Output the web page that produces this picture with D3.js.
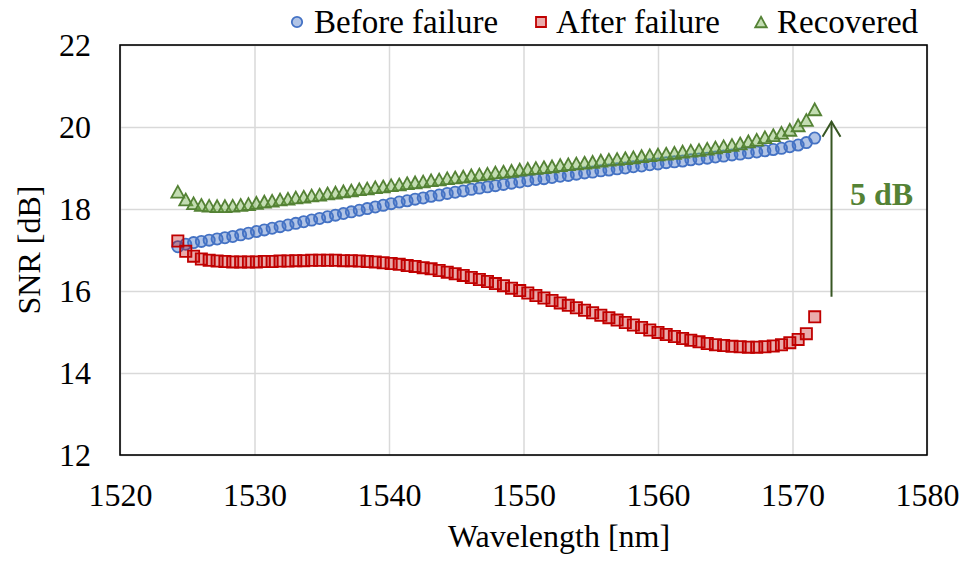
<!DOCTYPE html>
<html>
<head>
<meta charset="utf-8">
<script src="https://cdn.jsdelivr.net/npm/d3@7"></script>
<style>
  html, body { margin: 0; padding: 0; background: #ffffff; }
  svg { display: block; }
  text { font-family: "Liberation Serif", "Times New Roman", serif; }
</style>
</head>
<body>
<svg id="chart" width="966" height="562"></svg>
<script>
// ---- data ----
const wavelengths = [
  1524.30, 1524.89, 1525.47, 1526.05, 1526.63, 1527.22, 1527.80, 1528.38, 1528.97, 1529.55,
  1530.14, 1530.73, 1531.31, 1531.90, 1532.49, 1533.07, 1533.66, 1534.25, 1534.84, 1535.43,
  1536.02, 1536.61, 1537.20, 1537.79, 1538.38, 1538.98, 1539.57, 1540.16, 1540.76, 1541.35,
  1541.94, 1542.54, 1543.13, 1543.73, 1544.33, 1544.92, 1545.52, 1546.12, 1546.72, 1547.32,
  1547.91, 1548.51, 1549.11, 1549.72, 1550.32, 1550.92, 1551.52, 1552.12, 1552.73, 1553.33,
  1553.93, 1554.54, 1555.14, 1555.75, 1556.35, 1556.96, 1557.57, 1558.17, 1558.78, 1559.39,
  1560.00, 1560.61, 1561.22, 1561.83, 1562.44, 1563.05, 1563.66, 1564.27, 1564.88, 1565.50,
  1566.11, 1566.72, 1567.34, 1567.95, 1568.57, 1569.18, 1569.80, 1570.42, 1571.03, 1571.65
];
const snrBefore = [
  17.08, 17.14, 17.18, 17.21, 17.24, 17.27, 17.30, 17.33, 17.37, 17.41,
  17.45, 17.49, 17.53, 17.57, 17.61, 17.65, 17.69, 17.73, 17.77, 17.81,
  17.85, 17.89, 17.93, 17.97, 18.01, 18.05, 18.09, 18.13, 18.17, 18.20,
  18.24, 18.27, 18.31, 18.34, 18.38, 18.41, 18.44, 18.48, 18.51, 18.54,
  18.57, 18.60, 18.63, 18.66, 18.69, 18.72, 18.74, 18.77, 18.80, 18.82,
  18.85, 18.88, 18.90, 18.93, 18.95, 18.98, 19.00, 19.03, 19.05, 19.08,
  19.10, 19.13, 19.15, 19.17, 19.20, 19.22, 19.24, 19.27, 19.29, 19.32,
  19.34, 19.37, 19.39, 19.42, 19.45, 19.48, 19.52, 19.56, 19.62, 19.73
];
const snrAfter = [
  17.22, 16.97, 16.85, 16.78, 16.75, 16.73, 16.72, 16.71, 16.71, 16.71,
  16.71, 16.72, 16.72, 16.73, 16.73, 16.74, 16.74, 16.75, 16.75, 16.75,
  16.75, 16.74, 16.74, 16.73, 16.72, 16.71, 16.69, 16.67, 16.65, 16.62,
  16.60, 16.57, 16.54, 16.50, 16.46, 16.42, 16.38, 16.33, 16.28, 16.23,
  16.18, 16.13, 16.07, 16.01, 15.95, 15.89, 15.83, 15.77, 15.71, 15.65,
  15.59, 15.53, 15.47, 15.41, 15.35, 15.29, 15.23, 15.17, 15.11, 15.05,
  14.99, 14.94, 14.89, 14.84, 14.80, 14.76, 14.72, 14.69, 14.67, 14.65,
  14.64, 14.63, 14.63, 14.64, 14.66, 14.69, 14.74, 14.82, 14.96, 15.37
];
const snrRecovered = [
  18.42, 18.23, 18.14, 18.10, 18.08, 18.07, 18.07, 18.08, 18.10, 18.12,
  18.15, 18.18, 18.20, 18.23, 18.25, 18.28, 18.30, 18.33, 18.35, 18.38,
  18.40, 18.43, 18.45, 18.48, 18.50, 18.53, 18.55, 18.58, 18.60, 18.63,
  18.65, 18.67, 18.70, 18.72, 18.75, 18.77, 18.79, 18.82, 18.84, 18.86,
  18.89, 18.91, 18.93, 18.96, 18.98, 19.00, 19.02, 19.04, 19.07, 19.09,
  19.11, 19.13, 19.15, 19.18, 19.20, 19.22, 19.24, 19.26, 19.29, 19.31,
  19.33, 19.35, 19.37, 19.40, 19.42, 19.44, 19.47, 19.50, 19.53, 19.56,
  19.60, 19.65, 19.69, 19.75, 19.80, 19.86, 19.93, 20.04, 20.17, 20.43
];
const xTicks = [1520, 1530, 1540, 1550, 1560, 1570, 1580];
const yTicks = [12, 14, 16, 18, 20, 22];
const seriesNames = ["Before failure", "After failure", "Recovered"];
const arrowWavelength = 1572.9;
const arrowFrom = 15.86;
const arrowTo = 20.13;
const arrowLabel = "5 dB";

// ---- layout ----
const svg = d3.select("#chart");
const mLeft = 120, mRight = 927, mTop = 45, mBottom = 455;
const x = d3.scaleLinear().domain([1520, 1580]).range([mLeft, mRight]);
const y = d3.scaleLinear().domain([12, 22]).range([mBottom, mTop]);
const FONT = 32;

// gridlines
const gridY = svg.append("g").attr("transform", `translate(${mLeft},0)`)
  .call(d3.axisLeft(y).tickValues(yTicks).tickSize(-(mRight - mLeft)).tickFormat(""));
gridY.select(".domain").remove();
gridY.selectAll("line").attr("stroke", "#d9d9d9").attr("stroke-width", 1.5);

const gridX = svg.append("g").attr("transform", `translate(0,${mBottom})`)
  .call(d3.axisBottom(x).tickValues(xTicks).tickSize(-(mBottom - mTop)).tickFormat(""));
gridX.select(".domain").remove();
gridX.selectAll("line").attr("stroke", "#d9d9d9").attr("stroke-width", 1.5);

// axis labels
const axY = svg.append("g").attr("transform", `translate(${mLeft},0)`)
  .call(d3.axisLeft(y).tickValues(yTicks).tickSize(0).tickPadding(29).tickFormat(d3.format("d")));
axY.select(".domain").remove();
axY.selectAll("text").attr("font-size", FONT).attr("fill", "#000")
  .attr("font-family", "Liberation Serif, serif").attr("dy", "0.33em");

const axX = svg.append("g").attr("transform", `translate(0,${mBottom})`)
  .call(d3.axisBottom(x).tickValues(xTicks).tickSize(0).tickFormat(d3.format("d")));
axX.select(".domain").remove();
axX.selectAll("text").attr("font-size", FONT).attr("fill", "#000")
  .attr("font-family", "Liberation Serif, serif").attr("y", 51).attr("dy", null);

// plot border
svg.append("rect").attr("x", mLeft).attr("y", mTop)
  .attr("width", mRight - mLeft).attr("height", mBottom - mTop)
  .attr("fill", "none").attr("stroke", "#000").attr("stroke-width", 1.6);

// axis titles
svg.append("text").attr("x", 559).attr("y", 547).attr("text-anchor", "middle")
  .attr("font-size", FONT).text("Wavelength [nm]");
svg.append("text").attr("transform", "translate(40,250) rotate(-90)")
  .attr("text-anchor", "middle").attr("font-size", FONT).text("SNR [dB]");

// marker shapes
const triangleBox = {
  draw(ctx, size) {
    const s = Math.sqrt(size);
    const h = s / 2;
    ctx.moveTo(0, -h);
    ctx.lineTo(h * 1.1, h);
    ctx.lineTo(-h * 1.1, h);
    ctx.closePath();
  }
};

const styles = [
  { values: snrBefore, type: d3.symbolCircle, size: Math.PI * 5.6 * 5.6, legSize: Math.PI * 5.2 * 5.2,
    fill: "#4472C4", fillOp: 0.42, stroke: "#4472C4" },
  { values: snrAfter, type: d3.symbolSquare, size: 11.2 * 11.2, legSize: 10 * 10,
    fill: "#C00000", fillOp: 0.33, stroke: "#C00000" },
  { values: snrRecovered, type: triangleBox, size: 11.8 * 11.8, legSize: 10.5 * 10.5,
    fill: "#70AD47", fillOp: 0.42, stroke: "#548235" }
];

styles.forEach(st => {
  const sym = d3.symbol().type(st.type).size(st.size);
  svg.append("g").selectAll("path")
    .data(wavelengths.map((w, i) => [w, st.values[i]]))
    .join("path")
    .attr("transform", d => `translate(${x(d[0])},${y(d[1])})`)
    .attr("d", sym)
    .attr("fill", st.fill).attr("fill-opacity", st.fillOp)
    .attr("stroke", st.stroke).attr("stroke-width", 1.8);
});

// arrow annotation
const ax = x(arrowWavelength), ay0 = y(arrowFrom), ay1 = y(arrowTo);
const arrowColor = "#375623";
svg.append("line").attr("x1", ax).attr("x2", ax).attr("y1", ay0).attr("y2", ay1)
  .attr("stroke", arrowColor).attr("stroke-width", 2);
svg.append("path")
  .attr("d", `M${ax - 9},${ay1 + 15} L${ax},${ay1} L${ax + 9},${ay1 + 15}`)
  .attr("fill", "none").attr("stroke", arrowColor).attr("stroke-width", 2);
svg.append("text").attr("x", 850).attr("y", 205)
  .attr("font-size", FONT).attr("font-weight", "bold").attr("fill", "#548235")
  .text(arrowLabel);

// legend
const legendItems = [
  { mx: 297, tx: 314 },
  { mx: 541, tx: 556 },
  { mx: 761, tx: 777 }
];
legendItems.forEach((li, i) => {
  const st = styles[i];
  svg.append("path")
    .attr("transform", `translate(${li.mx},22)`)
    .attr("d", d3.symbol().type(st.type).size(st.legSize))
    .attr("fill", st.fill).attr("fill-opacity", st.fillOp)
    .attr("stroke", st.stroke).attr("stroke-width", 1.8);
  svg.append("text").attr("x", li.tx).attr("y", 33)
    .attr("font-size", 33).attr("fill", "#000").text(seriesNames[i]);
});
</script>
</body>
</html>
